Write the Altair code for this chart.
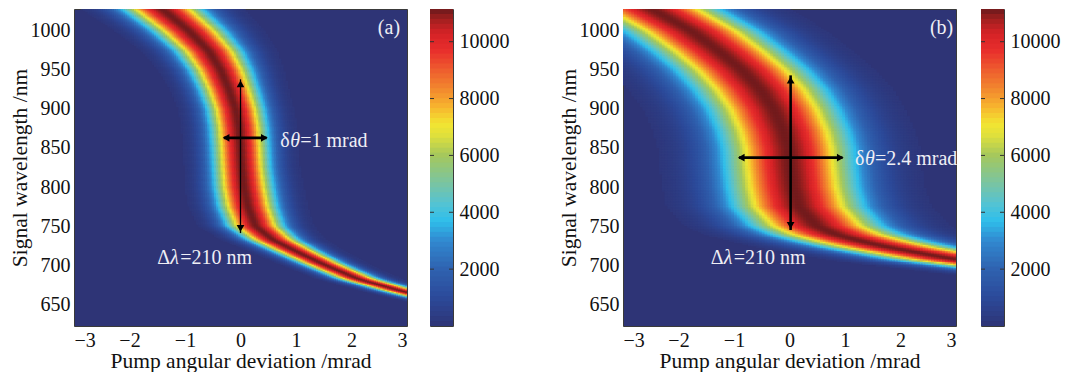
import altair as alt
import numpy as np
import pandas as pd

# ---------------- values ----------------
THETA_MIN, THETA_MAX = -3.0, 3.0          # pump angular deviation axis (mrad)
LAM_MIN, LAM_MAX = 622.0, 1028.0          # signal wavelength axis (nm)
PEAK_GAIN = 11100.0                       # gain on the ridge (dark red)
EDGE_GAIN = 7000.0                        # gain at the read half-width (yellow edge)
GAIN_MAX = 11150.0                        # top of colour bar

# Panel (a): ridge of the gain band, wavelength -> angle of peak, and half-width
lam_a = [622, 640, 655, 665, 682, 700, 716, 733, 750, 775, 800, 826, 850, 876, 900, 925, 950, 974, 1000, 1028]
theta_a = [8.0, 4.5, 3.6, 3.0, 2.13, 1.53, 1.05, 0.57, 0.27, 0.13, 0.06, 0.02, 0.0, -0.03, -0.09, -0.21, -0.36, -0.57, -0.93, -1.41]
hw_a = [0.24, 0.24, 0.24, 0.24, 0.25, 0.26, 0.28, 0.31, 0.34, 0.35, 0.35, 0.34, 0.34, 0.34, 0.34, 0.35, 0.37, 0.40, 0.44, 0.48]

# Panel (b)
lam_b = [622, 680, 690, 700, 707, 711, 716, 722, 730, 739, 750, 775, 800, 826, 850, 872, 900, 925, 950, 974, 1000, 1028]
theta_b = [14.0, 6.5, 5.0, 3.8, 3.03, 2.7, 2.31, 1.85, 1.33, 0.85, 0.49, 0.16, 0.06, 0.01, -0.02, -0.11, -0.29, -0.53, -0.86, -1.27, -1.77, -2.48]
hw_b = [0.78, 0.78, 0.78, 0.78, 0.78, 0.78, 0.78, 0.78, 0.78, 0.78, 0.78, 0.78, 0.77, 0.77, 0.77, 0.77, 0.77, 0.78, 0.78, 0.78, 0.79, 0.80]

x_ticks = [-3, -2, -1, 0, 1, 2, 3]
y_ticks = [650, 700, 750, 800, 850, 900, 950, 1000]
cbar_ticks = [2000, 4000, 6000, 8000, 10000]

# colour map (jet-like, as in the reference colour bar)
stop_values = [0, 1000, 2000, 3000, 3700, 4300, 5000, 6000, 6700, 7100, 7700, 8300, 9000, 9700, 10300, 10800, 11150]
stop_colors = ["#2e3476", "#2c4a9a", "#2f62b0", "#3189d0", "#2fbfeb", "#54c3d3", "#79c4a3", "#a5c85c",
               "#dfe03c", "#f2e532", "#f7b52e", "#f28a2e", "#ee5d2e", "#e82e2c", "#d52226", "#a0201f", "#6b1a1c"]
NAVY = "#2e3476"

# annotations (panel a)
arrows_a = {"t": [0.0, -0.30], "l": [741, 863], "t2": [0.0, 0.47], "l2": [938, 863], "w": [1.3, 2.6]}
heads_a = {"t": [0.0, 0.0, -0.26, 0.43], "l": [932, 747, 863, 863],
           "shape": ["triangle-up", "triangle-down", "triangle-left", "triangle-right"]}
text_a = {"dtheta": (0.715, 859.5, ["δ", "θ", "=1 mrad"]),
          "dlam": (-1.50, 709.7, ["Δ", "λ", "=210 nm"]),
          "label": (2.875, 1004.3, "(a)")}

# annotations (panel b)
arrows_b = {"t": [0.02, -0.91], "l": [745, 837.6], "t2": [0.02, 0.955], "l2": [943, 837.6], "w": [2.6, 2.6]}
heads_b = {"t": [0.02, 0.02, -0.87, 0.915], "l": [937, 751, 837.6, 837.6],
           "shape": ["triangle-up", "triangle-down", "triangle-left", "triangle-right"]}
text_b = {"dtheta": (1.18, 835.3, ["δ", "θ", "=2.4 mrad"]),
          "dlam": (-1.42, 708.5, ["Δ", "λ", "=210 nm"]),
          "label": (2.95, 1003.6, "(b)")}

FONT = "Liberation Serif"
TXT = "#eeeef5"
LABEL_SIZE = 20
TITLE_SIZE = 21.5

cscale = alt.Scale(domain=stop_values, range=stop_colors, interpolate="rgb", clamp=True)


def gain_grid(lam_pts, theta_pts, hw_pts, dt, dl):
    tc = np.arange(THETA_MIN + dt / 2, THETA_MAX, dt)
    lc = np.arange(LAM_MIN + dl / 2, LAM_MAX, dl)
    T, L = np.meshgrid(tc, lc)
    c = np.interp(L, lam_pts, theta_pts)
    w = np.interp(L, lam_pts, hw_pts)
    g = PEAK_GAIN * np.exp(-np.log(PEAK_GAIN / EDGE_GAIN) * ((T - c) / w) ** 2)
    m = g > 150
    return pd.DataFrame({"t": np.round(T[m] - dt / 2, 4),
                         "l": np.round(L[m] - dl / 2, 3),
                         "v": np.round(g[m]).astype(int)})


def axis(**kw):
    base = dict(labelFont=FONT, labelFontSize=LABEL_SIZE, labelColor="#111",
                titleFont=FONT, titleFontSize=TITLE_SIZE, titleFontWeight="normal", titleColor="#111",
                tickSize=0, domain=False, grid=False, format="d")
    base.update(kw)
    return alt.Axis(**base)


def text_layers(tx):
    layers = []
    widths = {"δ": 10, "θ": 10, "Δ": 13, "λ": 10}
    for key in ("dtheta", "dlam"):
        t, l, segs = tx[key]
        dx = 0
        for i, s in enumerate(segs):
            layers.append(
                alt.Chart(pd.DataFrame({"t": [t], "l": [l], "s": [s]}))
                .mark_text(align="left", baseline="middle", font=FONT, fontSize=20, color=TXT,
                           fontStyle="italic" if i == 1 else "normal", dx=dx)
                .encode(x="t:Q", y="l:Q", text="s:N"))
            dx += widths.get(s, 0)
    t, l, s = tx["label"]
    layers.append(
        alt.Chart(pd.DataFrame({"t": [t], "l": [l], "s": [s]}))
        .mark_text(align="right", baseline="middle", font=FONT, fontSize=20, color=TXT)
        .encode(x="t:Q", y="l:Q", text="s:N"))
    return layers


def panel(df, dt, dl, arrows, heads, tx):
    xs = alt.Scale(domain=[THETA_MIN, THETA_MAX], nice=False, zero=False)
    ys = alt.Scale(domain=[LAM_MIN, LAM_MAX], nice=False, zero=False)
    heat = alt.Chart(df).transform_calculate(
        t2=f"datum.t + {dt * 1.4}", l2=f"datum.l + {dl * 1.4}"
    ).mark_rect(clip=True).encode(
        x=alt.X("t:Q", scale=xs, axis=axis(values=x_ticks, labelPadding=4, titlePadding=0,
                                           title="Pump angular deviation /mrad")),
        x2="t2:Q",
        y=alt.Y("l:Q", scale=ys, axis=axis(values=y_ticks, labelPadding=4, titlePadding=-1,
                                           title="Signal wavelength /nm")),
        y2="l2:Q",
        color=alt.Color("v:Q", scale=cscale, legend=None),
    )
    shafts = alt.Chart(pd.DataFrame(arrows)).mark_rule(color="black").encode(
        x="t:Q", y="l:Q", x2="t2:Q", y2="l2:Q",
        strokeWidth=alt.StrokeWidth("w:Q", scale=None))
    hd = alt.Chart(pd.DataFrame(heads)).mark_point(filled=True, color="black", opacity=1, size=60).encode(
        x="t:Q", y="l:Q", shape=alt.Shape("shape:N", scale=None))
    return alt.layer(heat, shafts, hd, *text_layers(tx)).properties(
        width=333, height=317, view=alt.ViewBackground(fill=NAVY))


def colorbar():
    n = 64
    step = GAIN_MAX / n
    lo = [i * step for i in range(n)]
    mid = [v + step / 2 for v in lo]
    ys = alt.Scale(domain=[0, GAIN_MAX], nice=False, zero=False)
    bars = alt.Chart(pd.DataFrame({"lo": lo, "mid": mid})).transform_calculate(
        hi=f"datum.lo + {step * 1.5}"
    ).mark_rect(clip=True).encode(
        x=alt.value(0), x2=alt.value(23),
        y=alt.Y("lo:Q", scale=ys, axis=axis(orient="right", values=cbar_ticks, title=None, labelPadding=6)),
        y2="hi:Q",
        color=alt.Color("mid:Q", scale=cscale, legend=None))
    tdf = pd.DataFrame({"v": cbar_ticks})
    tl = alt.Chart(tdf).mark_rule(color="#333", strokeWidth=1).encode(
        y=alt.Y("v:Q", scale=ys), x=alt.value(0), x2=alt.value(4))
    tr = alt.Chart(tdf).mark_rule(color="#333", strokeWidth=1).encode(
        y=alt.Y("v:Q", scale=ys), x=alt.value(19), x2=alt.value(23))
    return alt.layer(bars, tl, tr).properties(width=23, height=317)


dt_a, dl_a = 0.04, 1.5
dt_b, dl_b = 0.05, 2.0
pa = panel(gain_grid(lam_a, theta_a, hw_a, dt_a, dl_a), dt_a, dl_a, arrows_a, heads_a, text_a)
pb = panel(gain_grid(lam_b, theta_b, hw_b, dt_b, dl_b), dt_b, dl_b, arrows_b, heads_b, text_b)

chart = alt.hconcat(
    alt.hconcat(pa, colorbar(), spacing=21),
    alt.hconcat(pb, colorbar(), spacing=22),
    spacing=47,
).properties(
    padding={"left": 0, "top": 0, "right": 0, "bottom": 0}, background="white"
).configure(font=FONT).configure_view(stroke="#3a3a3a", strokeWidth=1)

chart.save("out.html", embed_options={"renderer": "svg", "actions": False})
